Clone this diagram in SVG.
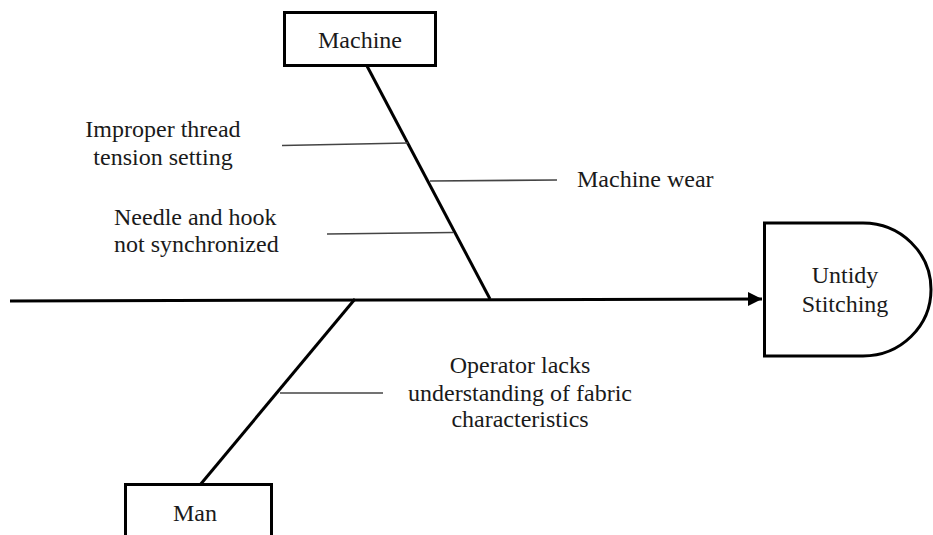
<svg xmlns="http://www.w3.org/2000/svg" width="933" height="535" viewBox="0 0 933 535">
<style>
text{font-family:"Liberation Serif","Times New Roman",serif;font-size:24px;fill:#1a1a1a}
.box{fill:#fff;stroke:#000;stroke-width:3}
.bone{stroke:#000;stroke-width:3;fill:none}
.sub{stroke:#444;stroke-width:1.6;fill:none}
</style>
<defs>
<marker id="arr" markerUnits="userSpaceOnUse" markerWidth="16" markerHeight="16" refX="14" refY="7" orient="auto">
<path d="M0,0 L14,7 L0,14 Z" fill="#000"/>
</marker>
</defs>
<rect width="933" height="535" fill="#fff"/>
<g id="connectors">
<line class="bone" x1="10" y1="301" x2="762" y2="299" marker-end="url(#arr)"/>
<line class="bone" x1="367" y1="66" x2="490" y2="299"/>
<line class="bone" x1="355" y1="299" x2="200" y2="485"/>
<line class="sub" x1="282" y1="145.5" x2="408" y2="143"/>
<line class="sub" x1="430" y1="181" x2="557" y2="180"/>
<line class="sub" x1="327" y1="234" x2="453" y2="232.5"/>
<line class="sub" x1="280" y1="393" x2="383" y2="393"/>
</g>
<g id="machine">
<rect class="box" x="284.5" y="12.5" width="151" height="53"/>
<text x="360" y="48" text-anchor="middle">Machine</text>
</g>
<g id="man">
<path class="box" d="M125.5,540 V484.5 H271.5 V540"/>
<text x="195" y="521" text-anchor="middle">Man</text>
</g>
<g id="effect">
<path class="box" d="M764.5,223 H863 A68,66.5 0 0 1 863,356 H764.5 Z"/>
<text x="845" y="283" text-anchor="middle">Untidy</text>
<text x="845" y="312" text-anchor="middle">Stitching</text>
</g>
<g id="cause-thread">
<text x="163" y="137" text-anchor="middle">Improper thread</text>
<text x="163" y="165" text-anchor="middle">tension setting</text>
</g>
<g id="cause-wear">
<text x="577" y="187">Machine wear</text>
</g>
<g id="cause-sync">
<text x="114" y="225">Needle and hook</text>
<text x="114" y="252">not synchronized</text>
</g>
<g id="cause-operator">
<text x="520" y="373" text-anchor="middle">Operator lacks</text>
<text x="520" y="401" text-anchor="middle">understanding  of fabric</text>
<text x="520" y="427" text-anchor="middle">characteristics</text>
</g>
</svg>
